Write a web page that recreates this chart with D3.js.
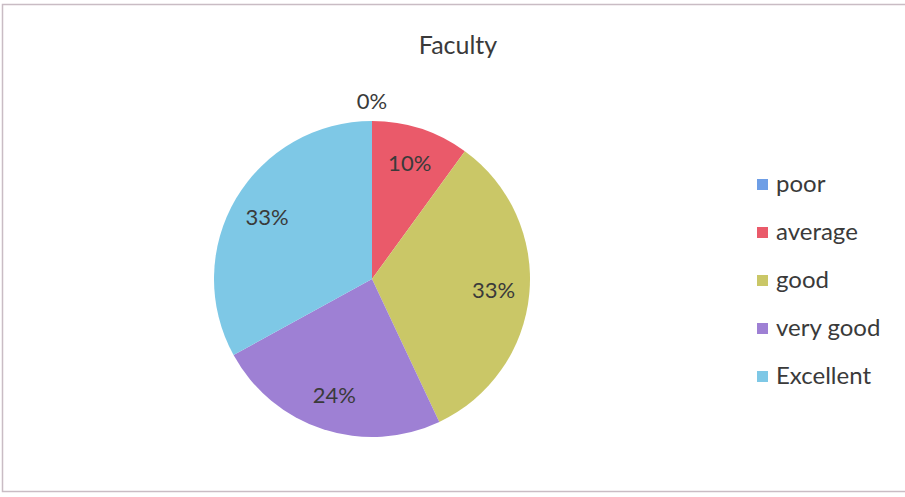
<!DOCTYPE html>
<html>
<head>
<meta charset="utf-8">
<script src="https://cdn.jsdelivr.net/npm/d3@7"></script>
<style>
  body { margin: 0; background: #fff; }
  text { font-family: Lato, "Open Sans", sans-serif; fill: #3a3a3a; }
</style>
</head>
<body>
<div id="chart"></div>
<script>
let categories = ["poor", "average", "good", "very good", "Excellent"];
let values = [0, 10, 33, 24, 33];
let colors = ["#6e9ee6", "#ea5a6a", "#cac767", "#9e80d4", "#7ec8e6"];

let width = 905, height = 497;

let svg = d3.select("#chart")
      .append("svg")
      .attr("width", width)
      .attr("height", height);

// chart border
svg.append("rect")
    .attr("x", 2.5)
    .attr("y", 4.5)
    .attr("width", width + 10)
    .attr("height", 487)
    .attr("fill", "#fff")
    .attr("stroke", "#c9bcc4")
    .attr("stroke-width", 1.5);

svg.append("text")
    .attr("x", 458)
    .attr("y", 54)
    .attr("text-anchor", "middle")
    .style("font-size", "25px")
    .text("Faculty");

let data = categories.map(function(c, i) { return {name: c, value: values[i], color: colors[i]}; });

let cx = 372, cy = 279, radius = 158;

let pie = d3.pie().sort(null).value(function(d) { return d.value; });
let arcs = pie(data);

let arc = d3.arc().innerRadius(0).outerRadius(radius);
let labelArc = d3.arc().innerRadius(122).outerRadius(122);
let outerArc = d3.arc().innerRadius(178).outerRadius(178);

let g = svg.append("g").attr("transform", "translate(" + cx + "," + cy + ")");

g.selectAll(".slice")
    .data(arcs)
    .enter().append("path")
    .attr("class", "slice")
    .attr("d", arc)
    .attr("fill", function(d) { return d.data.color; });

g.selectAll(".label")
    .data(arcs)
    .enter().append("text")
    .attr("class", "label")
    .attr("transform", function(d) {
        let p = d.data.value === 0 ? outerArc.centroid(d) : labelArc.centroid(d);
        return "translate(" + p[0] + "," + p[1] + ")";
    })
    .attr("dy", "0.35em")
    .attr("text-anchor", "middle")
    .style("font-size", "22px")
    .text(function(d) { return d.data.value + "%"; });

let legend = svg.append("g").attr("transform", "translate(757,184)");

let item = legend.selectAll(".item")
    .data(data)
    .enter().append("g")
    .attr("class", "item")
    .attr("transform", function(d, i) { return "translate(0," + (i * 48) + ")"; });

item.append("rect")
    .attr("x", 0)
    .attr("y", -5)
    .attr("width", 11)
    .attr("height", 11)
    .attr("fill", function(d) { return d.color; });

item.append("text")
    .attr("x", 19)
    .attr("dy", "0.35em")
    .style("font-size", "24px")
    .text(function(d) { return d.name; });
</script>
</body>
</html>
